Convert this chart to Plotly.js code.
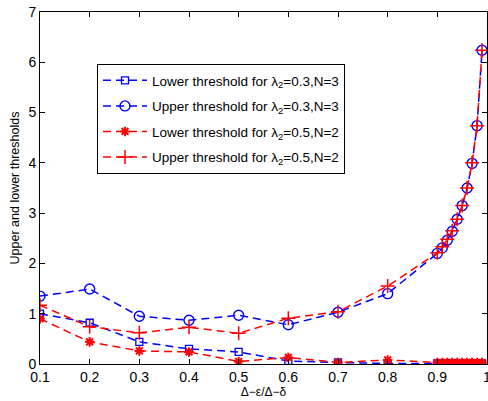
<!DOCTYPE html>
<html>
<head>
<meta charset="utf-8">
<script src="https://cdn.plot.ly/plotly-3.0.1.min.js"></script>
<style>html,body{margin:0;padding:0;background:#fff;}#chart{width:488px;height:401px;}</style>
</head>
<body>
<div id="chart"></div>
<script>
var ratio = [0.1,0.2,0.3,0.4,0.5,0.6,0.7,0.8,0.9,0.91,0.92,0.93,0.94,0.95,0.96,0.97,0.98,0.99];
var lowerN3 = [1.0,0.82,0.44,0.30,0.24,0.06,0.03,0.01,0.01,0.01,0.01,0.01,0.01,0.01,0.01,0.01,0.01,0.01];
var upperN3 = [1.35,1.49,0.95,0.87,0.97,0.78,1.03,1.40,2.20,2.31,2.46,2.64,2.88,3.15,3.50,3.99,4.74,6.24];
var lowerN2 = [0.90,0.44,0.26,0.24,0.05,0.13,0.03,0.08,0.03,0.03,0.03,0.03,0.03,0.03,0.03,0.03,0.03,0.03];
var upperN2 = [1.17,0.74,0.62,0.73,0.61,0.91,1.04,1.55,2.21,2.33,2.48,2.65,2.88,3.15,3.50,4.00,4.74,6.24];
var xTicks = [0.1,0.2,0.3,0.4,0.5,0.6,0.7,0.8,0.9,1];
var xTickText = ['0.1','0.2','0.3','0.4','0.5','0.6','0.7','0.8','0.9','1'];
var yTicks = [0,1,2,3,4,5,6,7];
var names = [
  'Lower threshold for λ<sub>2</sub>=0.3,N=3',
  'Upper threshold for λ<sub>2</sub>=0.3,N=3',
  'Lower threshold for λ<sub>2</sub>=0.5,N=2',
  'Upper threshold for λ<sub>2</sub>=0.5,N=2'
];
var BLUE = '#0000ff', RED = '#ff0000';
function tr(y, name, color, sym, size, lw, grp) {
  return {
    x: ratio, y: y, name: name, type: 'scatter', mode: 'lines+markers',
    legendgroup: grp,
    line: {color: color, width: 1.5, dash: '8px,5px'},
    marker: {symbol: sym, size: size, color: color, line: {color: color, width: lw}}
  };
}
var data = [
  tr(lowerN3, names[0], BLUE, 'square-open', 7, 1.3, 'a'),
  tr(upperN3, names[1], BLUE, 'circle-open', 10, 1.4, 'b'),
  tr(lowerN2, names[2], RED, 'asterisk-open', 8, 2, 'c'),
  tr(upperN2, names[3], RED, 'cross-thin-open', 10, 1.5, 'd')
];
var axisCommon = {
  showgrid: false, zeroline: false, showline: true, mirror: 'ticks',
  linecolor: '#000', linewidth: 1, ticks: 'inside', ticklen: 5, tickcolor: '#000',
  ticklabeloverflow: 'allow',
  tickfont: {family: 'Liberation Sans, Arial, sans-serif', size: 14, color: '#000'}
};
var layout = {
  width: 488, height: 401,
  margin: {l: 40, r: 1, t: 12, b: 37},
  paper_bgcolor: '#fff', plot_bgcolor: '#fff',
  font: {family: 'Liberation Sans, Arial, sans-serif', color: '#000'},
  showlegend: true,
  xaxis: Object.assign({}, axisCommon, {
    range: [0.1, 1], tickvals: xTicks, ticktext: xTickText,
    title: {text: 'Δ−ε/Δ−δ', font: {size: 12}, standoff: 3}
  }),
  yaxis: Object.assign({}, axisCommon, {
    range: [0, 7], tickvals: yTicks,
    title: {text: 'Upper and lower thresholds', font: {size: 12.5}, standoff: 6}
  }),
  legend: {
    x: 0.1275, y: 0.852, xanchor: 'left', yanchor: 'top',
    bgcolor: '#fff', bordercolor: '#000', borderwidth: 1,
    font: {size: 13.5, color: '#000'},
    tracegroupgap: 5, itemwidth: 44
  }
};
Plotly.newPlot('chart', data, layout, {displayModeBar: false, staticPlot: true});
</script>
</body>
</html>
